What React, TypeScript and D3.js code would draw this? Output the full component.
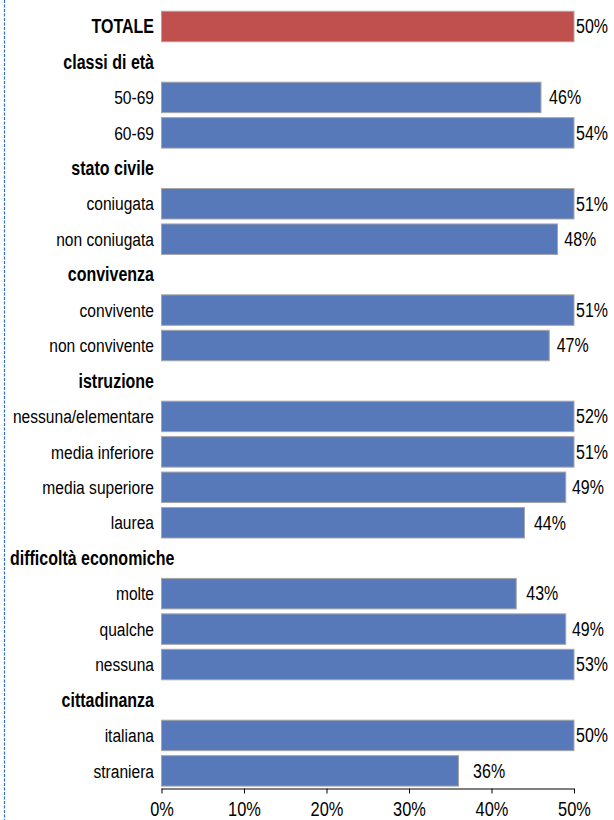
import React, { useEffect, useRef } from "react";
import * as d3 from "d3";

const categories = [
  "TOTALE",
  "classi di età", "50-69", "60-69",
  "stato civile", "coniugata", "non coniugata",
  "convivenza", "convivente", "non convivente",
  "istruzione", "nessuna/elementare", "media inferiore", "media superiore", "laurea",
  "difficoltà economiche", "molte", "qualche", "nessuna",
  "cittadinanza", "italiana", "straniera",
];
const rowTypes = [
  "total",
  "header", "item", "item",
  "header", "item", "item",
  "header", "item", "item",
  "header", "item", "item", "item", "item",
  "header", "item", "item", "item",
  "header", "item", "item",
];
const values: (number | null)[] = [
  50,
  null, 46, 54,
  null, 51, 48,
  null, 51, 47,
  null, 52, 51, 49, 44,
  null, 43, 49, 53,
  null, 50, 36,
];
const tickValues = [0, 10, 20, 30, 40, 50];

const W = 614;
const H = 820;
const FONT = "'Liberation Sans', Arial, sans-serif";
const NARROW = 0.82;

export default function App() {
  const ref = useRef<SVGSVGElement | null>(null);

  useEffect(() => {
    const svg = d3.select(ref.current);
    svg.selectAll("*").remove();

    const x = d3.scaleLinear().domain([0, 50]).range([161.5, 574]).clamp(true);
    const xLabel = d3.scaleLinear().domain([0, 50]).range([x(0) + 38, x(50) + 5.5]);
    const y = d3
      .scaleBand<number>()
      .domain(d3.range(categories.length))
      .range([8.8, 788.6])
      .paddingInner(0.14)
      .paddingOuter(0.07);

    const narrowText = (
      parent: d3.Selection<any, any, any, any>,
      tx: number,
      ty: number,
      str: string,
      size: number,
      anchor: string,
      bold = false
    ) =>
      parent
        .append("text")
        .attr("transform", `translate(${tx},${ty}) scale(${NARROW},1)`)
        .attr("dy", "0.35em")
        .attr("text-anchor", anchor)
        .attr("font-family", FONT)
        .attr("font-size", size)
        .attr("font-weight", bold ? "bold" : "normal")
        .attr("fill", "#000")
        .text(str);

    // left dotted border
    svg
      .append("line")
      .attr("x1", 4.5)
      .attr("x2", 4.5)
      .attr("y1", 0)
      .attr("y2", H)
      .attr("stroke", "#2e6fd6")
      .attr("stroke-width", 1.2)
      .attr("stroke-dasharray", "3,1.5");

    const g = svg.append("g");

    categories.forEach((cat, i) => {
      const type = rowTypes[i];
      const v = values[i];
      const cy = (y(i) as number) + y.bandwidth() / 2;
      const bold = type !== "item";

      if (v != null) {
        g.append("rect")
          .attr("x", x(0))
          .attr("y", y(i) as number)
          .attr("width", x(v) - x(0))
          .attr("height", y.bandwidth())
          .attr("fill", type === "total" ? "#c0504d" : "#5779ba")
          .attr("stroke", "#a6a6a6")
          .attr("stroke-width", 1);
        narrowText(g, Math.min(xLabel(v), x(50) + 2), cy, `${v}%`, 19.5, "start");
      }

      const t = narrowText(g, 154, cy, cat, bold ? 19.5 : 19, "end", bold);
      const node = t.node() as SVGTextElement;
      const w = node.getComputedTextLength() * NARROW;
      if (154 - w < 10) {
        t.attr("text-anchor", "start").attr("transform", `translate(10,${cy}) scale(${NARROW},1)`);
      }
    });

    const axisY = 788.5;
    const ax = svg
      .append("g")
      .attr("transform", `translate(0,${axisY})`)
      .call(
        d3
          .axisBottom(x)
          .tickValues(tickValues)
          .tickSize(5)
          .tickPadding(8)
          .tickFormat((d) => `${d}%`)
      );
    ax.select(".domain").attr("stroke", "#000").attr("d", `M${x(0)},0.5H${x(50)}`);
    ax.selectAll(".tick line").attr("stroke", "#000");
    ax.selectAll<SVGTextElement, number>(".tick text")
      .attr("font-family", FONT)
      .attr("font-size", 20)
      .attr("fill", "#000")
      .attr("transform", `scale(${NARROW},1)`)
      .attr("x", 0);
  }, []);

  return (
    <svg
      ref={ref}
      width={W}
      height={H}
      style={{ position: "absolute", left: 0, top: 0, background: "#fff" }}
    />
  );
}
